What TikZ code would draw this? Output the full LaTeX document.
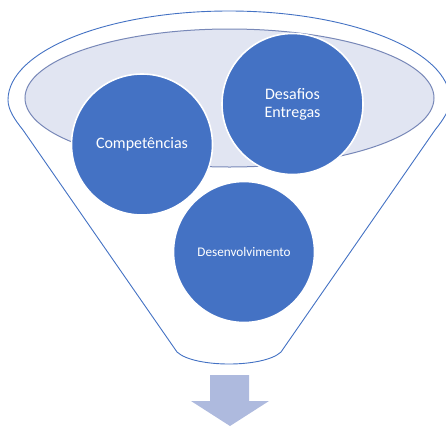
\documentclass[tikz,border=0pt]{standalone}
\usepackage{fontspec}
\setmainfont{Carlito}
\usepackage{tikz}
\usetikzlibrary{positioning}
\definecolor{funnelblue}{RGB}{68,114,196}
\definecolor{cupfill}{RGB}{225,229,242}
\definecolor{cupline}{RGB}{120,136,184}
\definecolor{flowfill}{RGB}{174,186,222}

\begin{document}
\begin{tikzpicture}[
    x=1pt, y=-1pt,
    funnel/.style={draw=funnelblue, line width=0.9pt, fill=white},
    cup/.style={draw=cupline, line width=1pt, fill=cupfill},
    bubble/.style={circle, fill=funnelblue, draw=white, line width=1.6pt, minimum size=141pt, inner sep=0pt, text=white, align=center, font=\fontsize{16}{18}\selectfont},
    small/.style={bubble, font=\fontsize{13.2}{15}\selectfont},
    flow/.style={fill=flowfill, draw=none}
]
    \useasboundingbox (0,0) rectangle (446,426);

    % funnel outline
    \draw[funnel] (23,130) .. controls (15,120) and (8,110) .. (8,100)
        .. controls (8,51) and (107,11) .. (229,11)
        .. controls (351,11) and (450,51) .. (450,100)
        .. controls (450,110) and (443,120) .. (435,130)
        -- (281,352)
        .. controls (264,368) and (194,368) .. (177,352)
        -- cycle;
    \draw[cup] (229.5,98) ellipse [x radius=204.5, y radius=69];

    \node[bubble] (comp) at (142,144.5) {Competências};
    \node[bubble] (desafios) at (292.5,104) {Desafios\\Entregas};
    \node[small] (desenv) at (244,252) {Desenvolvimento};

    % arrow below the funnel
    \fill[flow] (210,375) -- (249,375) -- (249,401) -- (269,401)
        -- (230,426) -- (191,401) -- (210,401) -- cycle;
\end{tikzpicture}
\end{document}
